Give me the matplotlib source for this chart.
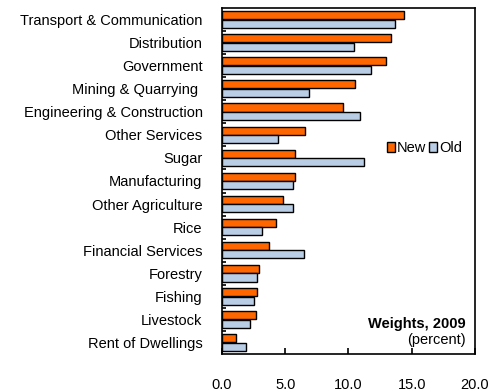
import matplotlib
matplotlib.use("Agg")
import matplotlib.pyplot as plt
import numpy as np
from matplotlib.patches import Patch

plt.rcParams["font.family"] = ["Liberation Sans", "DejaVu Sans"]

sectors = [
    "Transport & Communication", "Distribution", "Government",
    "Mining & Quarrying ", "Engineering & Construction", "Other Services",
    "Sugar", "Manufacturing", "Other Agriculture", "Rice",
    "Financial Services", "Forestry", "Fishing", "Livestock",
    "Rent of Dwellings",
]
new_weights = [14.4, 13.4, 13.0, 10.5, 9.6, 6.6, 5.8, 5.8, 4.8, 4.3,
               3.7, 2.9, 2.8, 2.7, 1.1]
old_weights = [13.7, 10.4, 11.8, 6.9, 10.9, 4.4, 11.2, 5.6, 5.6, 3.2,
               6.5, 2.8, 2.5, 2.2, 1.9]
xticks = [0, 5, 10, 15, 20]

ORANGE = "#FF6600"
BLUE = "#B9CDE5"
FS = 10.5

fig = plt.figure(figsize=(4.96, 3.92), dpi=100)
ax = fig.add_axes([0.4476, 0.097, 0.51, 0.8826])

y = np.arange(len(sectors))
h = 0.35
ax.barh(y - h / 2 - 0.01, new_weights, height=h, color=ORANGE,
        edgecolor="black", linewidth=1.0)
ax.barh(y + h / 2 + 0.01, old_weights, height=h, color=BLUE,
        edgecolor="black", linewidth=1.0)

ax.set_ylim(len(sectors) - 0.5, -0.5)
ax.set_xlim(0, 20)
ax.set_yticks(y)
ax.set_yticklabels(sectors, fontsize=FS)
ax.set_yticks(y[:-1] + 0.5, minor=True)
ax.tick_params(axis="y", which="major", length=0, pad=14)
ax.tick_params(axis="y", which="minor", direction="in", length=3, width=1.2)

ax.set_xticks(xticks)
ax.set_xticklabels([f"{v:.1f}" for v in xticks], fontsize=FS)
ax.tick_params(axis="x", direction="in", length=4, width=1.2, pad=17)

for s in ax.spines.values():
    s.set_linewidth(1.2)

handles = [Patch(facecolor=ORANGE, edgecolor="black", linewidth=1.0),
           Patch(facecolor=BLUE, edgecolor="black", linewidth=1.0)]
ax.legend(handles, ["New", "Old"], ncol=2, frameon=False, fontsize=FS,
          handlelength=0.55, handleheight=0.75, handletextpad=0.15,
          columnspacing=0.15, loc="center", bbox_to_anchor=(0.8, 0.595))

ax.text(0.965, 0.088, "Weights, 2009", transform=ax.transAxes,
        ha="right", va="center", fontsize=FS, fontweight="bold")
ax.text(0.965, 0.04, "(percent)", transform=ax.transAxes,
        ha="right", va="center", fontsize=FS)

fig.savefig("out.png", dpi=100)
